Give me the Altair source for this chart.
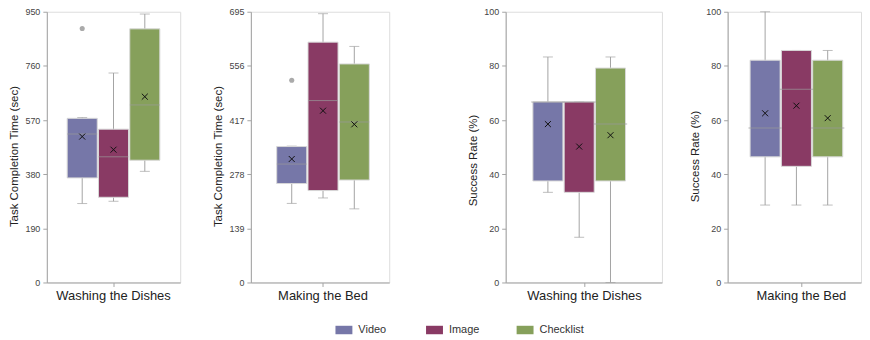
import altair as alt
import pandas as pd

conditions = ["Video", "Image", "Checklist"]
colors = ["#7677a8", "#893a64", "#86a05b"]

tasks = ["Washing the Dishes", "Making the Bed", "Washing the Dishes", "Making the Bed"]
metrics = ["Task Completion Time (sec)", "Task Completion Time (sec)",
           "Success Rate (%)", "Success Rate (%)"]
y_max = [950, 695, 100, 100]
y_ticks = [
    [0, 190, 380, 570, 760, 950],
    [0, 139, 278, 417, 556, 695],
    [0, 20, 40, 60, 80, 100],
    [0, 20, 40, 60, 80, 100],
]

# per panel, per condition (Video, Image, Checklist)
whisk_lo = [[277, 285, 390], [203, 217, 189], [33.3, 16.7, 0], [28.6, 28.6, 28.6]]
q1 = [[367, 299, 429], [254, 236, 263], [37.5, 33.3, 37.5], [46.4, 42.9, 46.4]]
median = [[521, 441, 623], [304, 467, 412], [66.7, 66.7, 58.5], [57.1, 71.4, 57.1]]
q3 = [[576, 538, 890], [349, 617, 561], [66.7, 66.7, 79.2], [82.1, 85.7, 82.1]]
whisk_hi = [[579, 735, 942], [350, 690, 606], [83.3, 66.7, 83.3], [100, 85.7, 85.7]]
means = [[512, 466, 652], [317, 441, 406], [58.5, 50.2, 54.4], [62.5, 65.3, 60.7]]
outlier_cond = [["Video"], ["Video"], [], []]
outlier_val = [[891], [519], [], []]

# layout per panel
widths = [134, 139, 157, 134]
outer_pad = [0.22, 0.247, 0.257, 0.15]
band_align = [0.5, 0.565, 0.513, 0.73]
box_w = [30, 30, 33.5, 33.5]
title_y = [145, 145, 149, 145]

FONT = "Liberation Sans"
GREY = "#a3a3a3"

LEGEND = alt.Legend(title=None, orient="none", direction="horizontal",
                    legendX=290, legendY=311,
                    symbolType="M-1,-0.5H1V0.5H-1Z", symbolSize=289,
                    symbolStrokeWidth=0, symbolOpacity=1,
                    labelFontSize=11, labelColor="#333", labelFont=FONT,
                    labelOffset=6, columnPadding=23, gridAlign="all")


def panel(i):
    df = pd.DataFrame({
        "Task": [tasks[i]] * 3,
        "Condition": conditions,
        "lo": whisk_lo[i], "q1": q1[i], "med": median[i],
        "q3": q3[i], "hi": whisk_hi[i], "mean": means[i],
    })
    x = alt.X("Task:N", title=None,
              scale=alt.Scale(paddingInner=0, paddingOuter=outer_pad[i], align=band_align[i]),
              axis=alt.Axis(labelAngle=0, labelFontSize=13, labelColor="#222",
                            labelPadding=3, tickSize=4, domainColor=GREY,
                            tickColor=GREY, labelFont=FONT))
    xo = alt.XOffset("Condition:N", sort=conditions,
                     scale=alt.Scale(domain=conditions, paddingInner=0.04, paddingOuter=0))
    yscale = alt.Scale(domain=[0, y_max[i]], nice=False, zero=True)
    yaxis = alt.Axis(values=y_ticks[i], title=metrics[i], grid=False,
                     labelFontSize=9, labelColor="#444", tickSize=4, labelPadding=3,
                     domainColor=GREY, tickColor=GREY, titleFontSize=11.5,
                     titleColor="#222", titleFontWeight="normal", titlePadding=5,
                     titleY=title_y[i], labelFont=FONT, titleFont=FONT)
    base = alt.Chart(df).encode(x=x, xOffset=xo)
    whisk = base.mark_rule(color=GREY, strokeWidth=1).encode(
        y=alt.Y("lo:Q", scale=yscale, axis=yaxis), y2="hi:Q")
    caps_lo = base.mark_tick(color=GREY, size=10, thickness=1).encode(
        y=alt.Y("lo:Q", scale=yscale))
    caps_hi = base.mark_tick(color=GREY, size=10, thickness=1).encode(
        y=alt.Y("hi:Q", scale=yscale))
    box = base.mark_bar(stroke="#d8d8d8", strokeWidth=1, opacity=1).encode(
        y=alt.Y("q1:Q", scale=yscale), y2="q3:Q",
        color=alt.Color("Condition:N", sort=conditions,
                        scale=alt.Scale(domain=conditions, range=colors),
                        legend=LEGEND))
    med = base.mark_tick(color="#9a9a9a", size=box_w[i], thickness=1).encode(
        y=alt.Y("med:Q", scale=yscale))
    mean = base.mark_point(shape="M-1,-1L1,1M1,-1L-1,1", filled=False, color="#111",
                           strokeWidth=1, size=36, opacity=1).encode(
        y=alt.Y("mean:Q", scale=yscale))
    layers = [whisk, caps_lo, caps_hi, box, med, mean]
    if outlier_val[i]:
        odf = pd.DataFrame({"Task": [tasks[i]] * len(outlier_val[i]),
                            "Condition": outlier_cond[i], "val": outlier_val[i]})
        outl = alt.Chart(odf).mark_circle(color="#aaaaaa", size=26, opacity=1).encode(
            x=x, xOffset=xo, y=alt.Y("val:Q", scale=yscale))
        layers.append(outl)
    return alt.layer(*layers).properties(width=widths[i], height=272)


left = alt.hconcat(panel(0), panel(1), spacing=31)
right = alt.hconcat(panel(2), panel(3), spacing=26)
chart = alt.hconcat(left, right, spacing=77).resolve_scale(color="shared").properties(
    padding={"left": 0, "top": -2, "right": 0, "bottom": 0}
).configure_view(stroke=None).configure(font=FONT)

chart.save("out.html", embed_options={"renderer": "svg", "actions": False})
